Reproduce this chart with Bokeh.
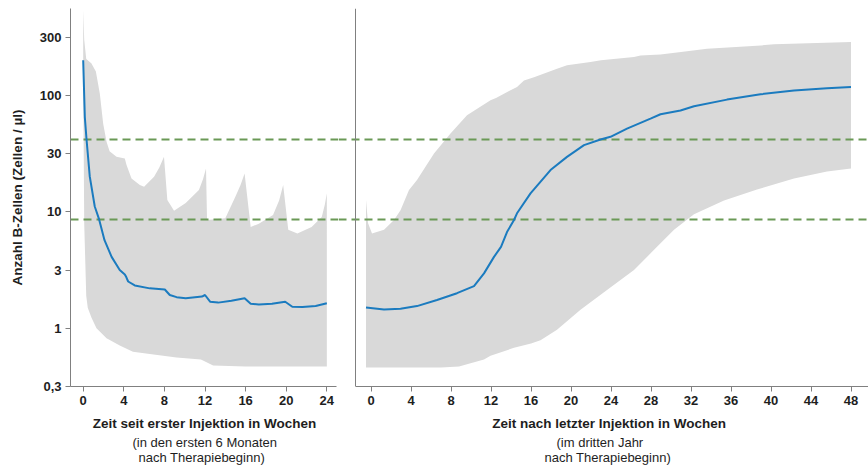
import math
from bokeh.plotting import figure
from bokeh.models import Range1d, FixedTicker, Title
from bokeh.layouts import row
from bokeh.embed import file_html
from bokeh.resources import INLINE

# ---------------- data ----------------
# Left panel: weeks since first injection (first 6 months)
left_mean_weeks = [0, 0.16, 0.33, 0.65, 1.14, 1.57, 2.1, 2.8, 3.6, 4.1, 4.2, 4.43, 5.08, 6.56,
                   8.04, 8.53, 9.2, 10.1, 11.7, 12.0, 12.5, 13.3, 14.6, 15.9, 16.5, 17.3, 18.6,
                   19.9, 20.6, 21.6, 22.9, 24.0]
left_mean = [200, 65, 41.7, 20, 11.1, 8.6, 5.7, 4.1, 3.16, 2.9, 2.8, 2.52, 2.33, 2.2,
             2.15, 1.93, 1.85, 1.81, 1.87, 1.93, 1.69, 1.66, 1.72, 1.81, 1.62, 1.6, 1.62,
             1.69, 1.53, 1.52, 1.55, 1.64]

left_upper_weeks = [0, 0.1, 0.3, 0.8, 1.25, 1.64, 1.97, 2.3, 2.6, 3.28, 4.1, 4.27, 4.76, 5.58,
                    6.0, 6.98, 7.5, 7.96, 8.29, 8.95, 10.1, 11.4, 11.8, 12.1, 12.2, 14.0, 15.0,
                    15.5, 15.9, 16.5, 17.3, 18.7, 19.3, 19.7, 20.2, 21.1, 22.5, 23.5, 23.8, 24.0]
left_upper = [540, 300, 205, 188, 160, 103, 57, 40, 33, 29.6, 28.7, 25.2, 19.3, 17,
              16.4, 20, 24, 29.6, 12.6, 10.2, 11.9, 15.4, 19, 23.5, 8.5, 8.8, 13.5,
              17, 21.3, 7.4, 7.9, 9.4, 12.5, 17, 7.0, 6.5, 7.4, 9.0, 11.5, 14.4]

left_lower_weeks = [0, 0.1, 0.3, 0.45, 0.82, 1.31, 2.3, 3.6, 4.9, 6.56, 9.2, 11.6, 12.8,
                    16.0, 20.0, 24.0]
left_lower = [150, 8, 1.9, 1.5, 1.23, 1.0, 0.82, 0.71, 0.63, 0.6, 0.56, 0.54, 0.48,
              0.47, 0.47, 0.47]

# Right panel: weeks after last injection (third year)
right_mean_weeks = [-0.5, 1.3, 2.95, 4.6, 6.6, 8.6, 10.3, 11.3, 12.3, 13.0, 13.6, 14.3, 14.6,
                    15.95, 17.95, 19.6, 21.3, 22.95, 23.95, 25.6, 27.95, 28.95, 30.95, 32.3,
                    35.6, 38.95, 42.3, 45.6, 48.0]
right_mean = [1.51, 1.45, 1.47, 1.55, 1.75, 2.0, 2.3, 2.96, 4.1, 5.0, 6.7, 8.5, 9.7,
              14.4, 22.8, 29.6, 37.3, 41.7, 44, 51.8, 63, 68.7, 74, 80.5,
              91.8, 102, 110, 115, 118]

right_upper_weeks = [-0.5, -0.3, 0.1, 1.3, 2.3, 2.95, 3.8, 4.6, 6.3, 7.95, 9.6, 11.95, 12.5,
                     14.6, 15.3, 16.3, 18.6, 19.6, 21.95, 23.0, 26.3, 26.95, 28.95, 31.0,
                     33.6, 39.0, 40.3, 48.0]
right_upper = [12.6, 8.0, 6.5, 7.0, 8.5, 10.3, 15.4, 18.7, 31.6, 47, 67.4, 90.6, 95,
               118, 134, 143, 169, 181, 193, 200, 213, 220, 224, 235,
               251, 268, 274, 286]

right_lower_weeks = [-0.5, 7.0, 8.8, 9.6, 11.3, 11.95, 14.3, 16.0, 16.95, 18.6, 20.95, 23.6,
                     26.3, 28.6, 30.3, 32.3, 35.3, 38.6, 42.3, 45.6, 48.0]
right_lower = [0.46, 0.46, 0.47, 0.49, 0.54, 0.58, 0.68, 0.74, 0.79, 0.97, 1.44, 2.13,
               3.16, 5.0, 7.0, 9.5, 12.5, 15.5, 19.3, 22.2, 23.5]

thresholds = [41.5, 8.6]

left_ticks = [0, 4, 8, 12, 16, 20, 24]
right_ticks = [0, 4, 8, 12, 16, 20, 24, 28, 32, 36, 40, 44, 48]
y_ticks = [10 ** (k / 2) for k in range(-1, 6)]
y_tick_labels = ["0,3", "1", "3", "10", "30", "100", "300"]

y_title = "Anzahl B-Zellen (Zellen / µl)"
left_titles = ["Zeit seit erster Injektion in Wochen", "(in den ersten 6 Monaten", "nach Therapiebeginn)"]
right_titles = ["Zeit nach letzter Injektion in Wochen", "(im dritten Jahr", "nach Therapiebeginn)"]

# ---------------- style ----------------
FONT = "Liberation Sans"
BAND = "#d9d9d9"
BLUE = "#1b7bbf"
GREEN = "#6a9956"
AXIS = "#808080"
TEXT = "#1e1e1e"
Y_MIN, Y_MAX = 10 ** -0.5, 10 ** 2.745
H = 466
NBSP = "\u00a0"


def style_axis(ax):
    ax.axis_line_color = AXIS
    ax.major_tick_line_color = AXIS
    ax.major_tick_out = 5
    ax.major_tick_in = 0
    ax.minor_tick_out = 0
    ax.minor_tick_in = 0
    ax.major_label_text_font = FONT
    ax.major_label_text_font_style = "bold"
    ax.major_label_text_font_size = "13px"
    ax.major_label_text_color = TEXT
    ax.major_label_standoff = 4
    ax.axis_label_text_font = FONT
    ax.axis_label_text_font_style = "bold"
    ax.axis_label_text_font_size = "13.5px"
    ax.axis_label_text_color = TEXT


def panel(p, mw, m, uw, u, lw, lo, ticks, bounds, titles, offsets, pad):
    p.outline_line_color = None
    p.grid.visible = False
    p.background_fill_color = "white"
    p.border_fill_color = "white"
    p.patch(uw + lw[::-1], u + lo[::-1], fill_color=BAND, line_color=None)
    p.hspan(y=thresholds, line_color=GREEN, line_width=2, line_dash="8 5")
    p.line(mw, m, line_color=BLUE, line_width=2)
    xa = p.xaxis[0]
    style_axis(xa)
    xa.ticker = FixedTicker(ticks=ticks)
    xa.bounds = bounds
    xa.axis_label = NBSP * pad + titles[0]
    xa.axis_label_standoff = 8
    for txt, off in zip(titles[1:], offsets):
        p.add_layout(Title(text=txt, align="left", offset=off, standoff=-2,
                           text_font=FONT, text_font_size="13px", text_font_style="normal",
                           text_color=TEXT), "below")


left = figure(width=338, height=H, y_axis_type="log",
              x_range=Range1d(-1.25, 25.15), y_range=Range1d(Y_MIN, Y_MAX),
              output_backend="svg", toolbar_location=None,
              min_border_left=70, min_border_right=0, min_border_top=8, min_border_bottom=80)
panel(left, left_mean_weeks, left_mean, left_upper_weeks, left_upper, left_lower_weeks, left_lower,
      left_ticks, (-1.25, 25.0), left_titles, [62, 68], 0)
ya = left.yaxis[0]
style_axis(ya)
ya.ticker = FixedTicker(ticks=y_ticks)
ya.major_label_overrides = dict(zip(y_ticks, y_tick_labels))
ya.axis_label = y_title
ya.axis_label_standoff = 12

right = figure(width=530, height=H, y_axis_type="log", y_axis_location=None,
               x_range=Range1d(-3.25, 49.75), y_range=Range1d(Y_MIN, Y_MAX),
               output_backend="svg", toolbar_location=None,
               min_border_left=0, min_border_right=0, min_border_top=8, min_border_bottom=80)
panel(right, right_mean_weeks, right_mean, right_upper_weeks, right_upper, right_lower_weeks, right_lower,
      right_ticks, (-1.6, 49.75), right_titles, [218, 206], 3)
right.vspan(x=[-1.6], line_color=AXIS, line_width=1)

layout = row(left, right)
open("out.html", "w").write(file_html(layout, INLINE))
